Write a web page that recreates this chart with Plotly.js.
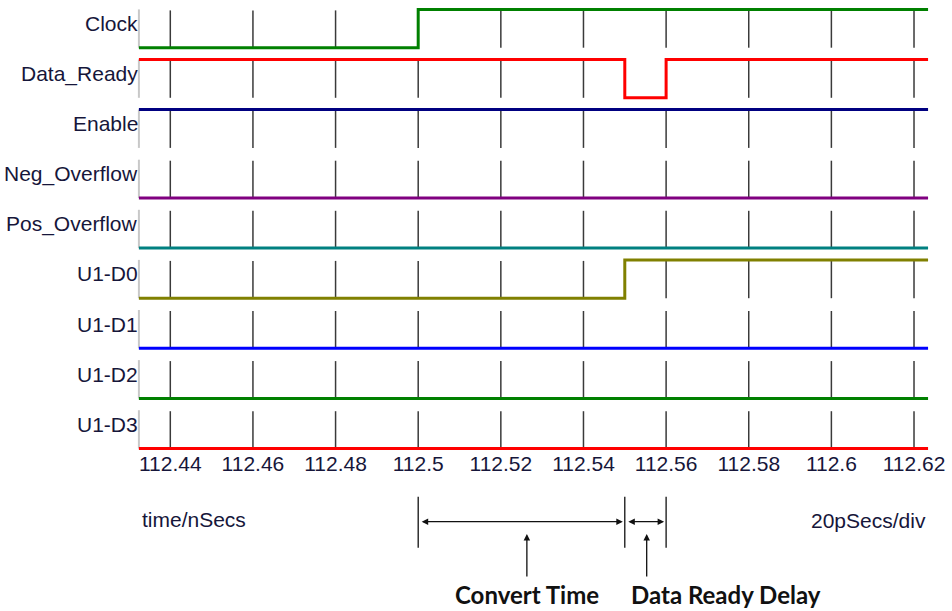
<!DOCTYPE html>
<html><head><meta charset="utf-8">
<script src="https://cdn.plot.ly/plotly-3.0.1.min.js"></script>
<style>html,body{margin:0;padding:0;background:#fff;} #chart{width:952px;height:611px;}</style>
</head><body><div id="chart"></div>
<script>
// ---- data ----
const signalNames = ['Clock','Data_Ready','Enable','Neg_Overflow','Pos_Overflow','U1-D0','U1-D1','U1-D2','U1-D3'];
const clockTimes = [112.4324, 112.5, 112.6234];
const clockLevels = [0, 1, 1];
const dataReadyTimes = [112.4324, 112.55, 112.56, 112.6234];
const dataReadyLevels = [1, 0, 1, 1];
const enableTimes = [112.4324, 112.6234];
const enableLevels = [1, 1];
const negOverflowTimes = [112.4324, 112.6234];
const negOverflowLevels = [0, 0];
const posOverflowTimes = [112.4324, 112.6234];
const posOverflowLevels = [0, 0];
const d0Times = [112.4324, 112.55, 112.6234];
const d0Levels = [0, 1, 1];
const d1Times = [112.4324, 112.6234];
const d1Levels = [0, 0];
const d2Times = [112.4324, 112.6234];
const d2Levels = [0, 0];
const d3Times = [112.4324, 112.6234];
const d3Levels = [0, 0];
const tickValues = [112.44, 112.46, 112.48, 112.5, 112.52, 112.54, 112.56, 112.58, 112.6, 112.62];
const tickLabels = ['112.44','112.46','112.48','112.5','112.52','112.54','112.56','112.58','112.6','112.62'];
const markerTimes = [112.5, 112.55, 112.56];
const spanStarts = [112.5, 112.55];
const spanEnds = [112.55, 112.56];
const arrowTimes = [112.5263, 112.5553];
const noteLabels = ['Convert Time', 'Data Ready Delay'];
const axisLabel = 'time/nSecs';
const scaleLabel = '20pSecs/div';

// ---- styling / layout helpers ----
const signalTimes = [clockTimes, dataReadyTimes, enableTimes, negOverflowTimes, posOverflowTimes, d0Times, d1Times, d2Times, d3Times];
const signalLevels = [clockLevels, dataReadyLevels, enableLevels, negOverflowLevels, posOverflowLevels, d0Levels, d1Levels, d2Levels, d3Levels];
const colors = ['#008000','#ff0000','#000080','#800080','#008080','#808000','#0000ff','#008000','#ff0000'];
const rowLow = i => 47.7 + 50.1 * i;
const rowAmp = 38.3;
const tStart = clockTimes[0], tEnd = clockTimes[clockTimes.length - 1];

const traces = [];
// row edge lines
const ex = [], ey = [];
signalNames.forEach((n, i) => { ex.push(tStart, tStart, null); ey.push(rowLow(i) - rowAmp, rowLow(i), null); });
traces.push({x: ex, y: ey, mode: 'lines', line: {color: '#c8c8c8', width: 2}, hoverinfo: 'skip', showlegend: false});
// grid ticks
const gx = [], gy = [];
signalNames.forEach((n, i) => {
  tickValues.forEach(t => { gx.push(t, t, null); gy.push(rowLow(i) - rowAmp + 1, rowLow(i), null); });
});
traces.push({x: gx, y: gy, mode: 'lines', line: {color: '#3a3a3a', width: 1.5}, hoverinfo: 'skip', showlegend: false});
// signals
signalNames.forEach((n, i) => {
  traces.push({
    x: signalTimes[i], y: signalLevels[i].map(v => rowLow(i) - v * rowAmp),
    mode: 'lines', line: {color: colors[i], width: 3, shape: 'hv'}, name: n, showlegend: false
  });
});
// marker lines
const mx = [], my = [];
markerTimes.forEach(t => { mx.push(t, t, null); my.push(496.7, 547.7, null); });
traces.push({x: mx, y: my, mode: 'lines', line: {color: '#111', width: 1.3}, hoverinfo: 'skip', showlegend: false});

const textFont = {family: 'Liberation Sans, Arial, sans-serif', size: 21, color: '#16163a'};
const annotations = [];
signalNames.forEach((n, i) => {
  annotations.push({xref: 'paper', yref: 'y', x: 0, xshift: 3, y: rowLow(i) - rowAmp + 14, text: n, showarrow: false,
    xanchor: 'right', yanchor: 'middle', font: textFont});
});
annotations.push({xref: 'x', yref: 'y', x: tStart, xshift: 1, y: 519, text: axisLabel, showarrow: false, xanchor: 'left', yanchor: 'middle', font: textFont});
annotations.push({xref: 'x', yref: 'y', x: tEnd, y: 520, text: scaleLabel, showarrow: false, xanchor: 'right', yanchor: 'middle', font: textFont});
spanStarts.forEach((s, i) => {
  annotations.push({xref: 'x', yref: 'y', axref: 'x', ayref: 'y', x: spanEnds[i], y: 521.7, ax: s, ay: 521.7,
    text: '', showarrow: true, arrowside: 'end+start', arrowhead: 2, startarrowhead: 2, arrowsize: 1, startarrowsize: 1,
    arrowwidth: 1.3, arrowcolor: '#111', standoff: 2, startstandoff: 2});
});
arrowTimes.forEach(t => {
  annotations.push({xref: 'x', yref: 'y', axref: 'x', ayref: 'y', x: t, y: 534, ax: t, ay: 578,
    text: '', showarrow: true, arrowhead: 2, arrowsize: 1, arrowwidth: 1.3, arrowcolor: '#111'});
});
const boldFont = {family: 'Lato, Open Sans, sans-serif', size: 24, color: '#111', weight: 'bold'};
annotations.push({xref: 'x', yref: 'y', x: arrowTimes[0], y: 594, text: '<b>' + noteLabels[0] + '</b>', showarrow: false, xanchor: 'center', yanchor: 'middle', font: boldFont});
annotations.push({xref: 'x', yref: 'y', x: markerTimes[1], xshift: 4, y: 594, text: '<b>' + noteLabels[1] + '</b>', showarrow: false, xanchor: 'left', yanchor: 'middle', font: boldFont});

const layout = {
  width: 952, height: 611,
  margin: {l: 137, r: 12, t: 0, b: 0, pad: 0},
  paper_bgcolor: '#fff', plot_bgcolor: '#fff',
  xaxis: {range: [112.43194, 112.62629], tickvals: tickValues, ticktext: tickLabels,
    anchor: 'free', position: (611 - 449) / 611, showgrid: false, zeroline: false, showline: false, ticks: '',
    tickfont: textFont, fixedrange: true},
  yaxis: {range: [611, 0], visible: false, fixedrange: true},
  annotations: annotations,
  showlegend: false
};
Plotly.newPlot('chart', traces, layout, {displayModeBar: false, staticPlot: true});
</script></body></html>
